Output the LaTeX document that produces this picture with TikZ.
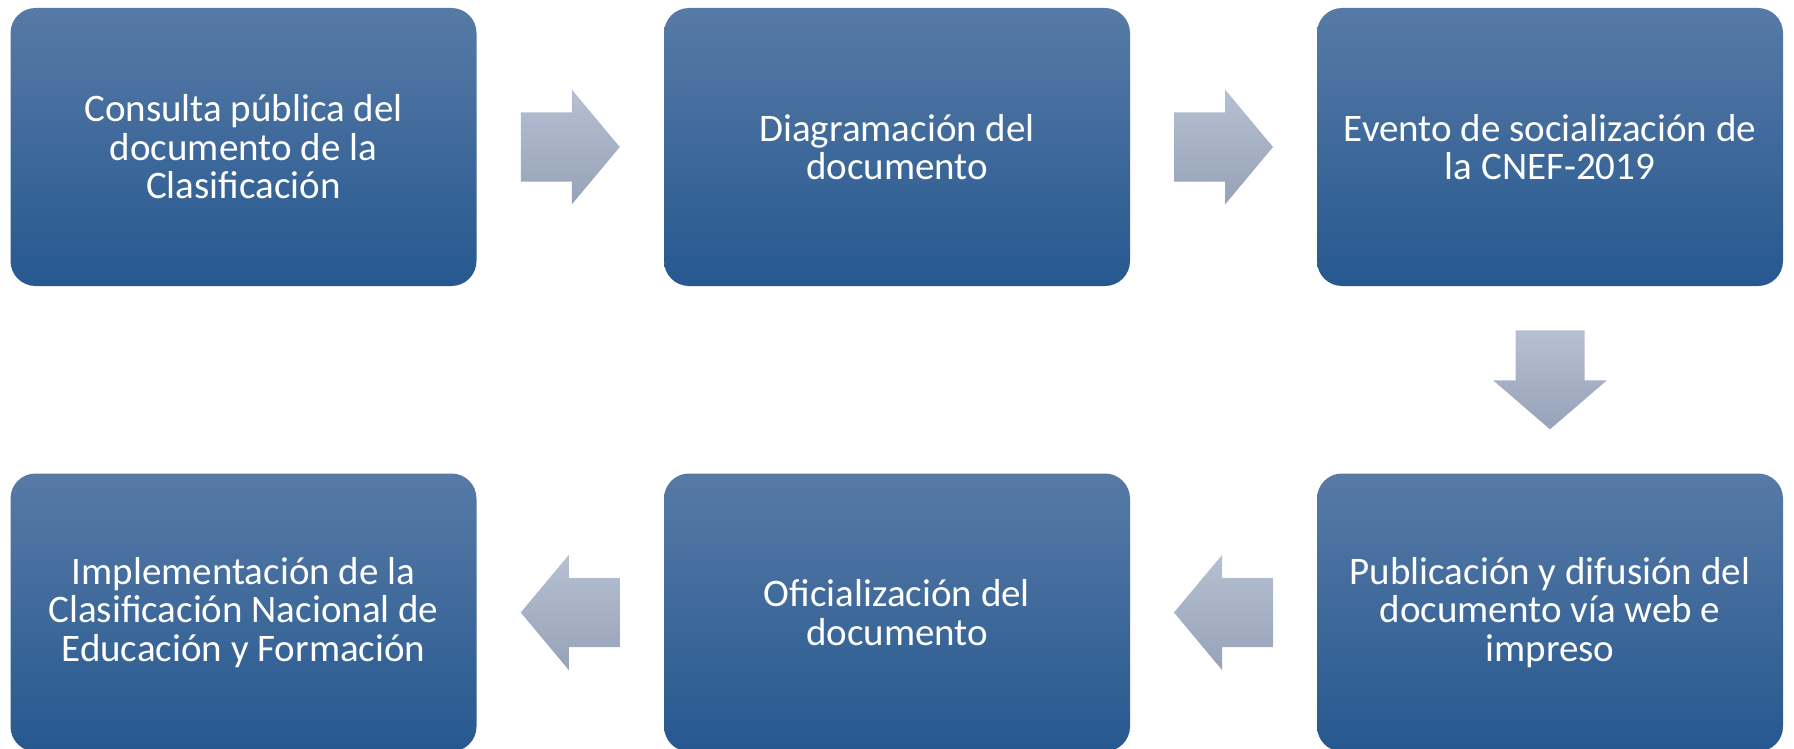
\documentclass[tikz,border=0pt]{standalone}
\usepackage{fontspec}
\setmainfont{Carlito}
\usetikzlibrary{calc}

\definecolor{boxtop}{RGB}{87,122,166}
\definecolor{boxmid}{RGB}{46,101,158}
\definecolor{boxbot}{RGB}{38,88,143}
\definecolor{arrtop}{RGB}{182,192,210}
\definecolor{arrbot}{RGB}{150,162,184}

\tikzset{
	etapa/.style={rounded corners=25pt, top color=boxtop, middle color=boxmid, bottom color=boxbot,
		minimum width=466pt, minimum height=278pt, inner sep=0pt,
		text=white, align=center, font=\fontsize{39}{38.5}\selectfont},
	flecha/.style={top color=arrtop, bottom color=arrbot},
	rflecha/.pic={\shade[flecha] (-49.5,-34.5) -- (1.5,-34.5) -- (1.5,-57.5) -- (49.5,0) -- (1.5,57.5) -- (1.5,34.5) -- (-49.5,34.5) -- cycle;},
	lflecha/.pic={\shade[flecha] (49.5,-34.5) -- (-1.5,-34.5) -- (-1.5,-57.5) -- (-49.5,0) -- (-1.5,57.5) -- (-1.5,34.5) -- (49.5,34.5) -- cycle;},
	dflecha/.pic={\shade[flecha] (-34.5,-49.5) -- (34.5,-49.5) -- (34.5,0.5) -- (57,0.5) -- (0,49.5) -- (-57,0.5) -- (-34.5,0.5) -- cycle;},
}

\begin{document}
\begin{tikzpicture}[x=1pt, y=-1pt]
			\useasboundingbox (0,0) rectangle (1794,749);
			
			%%%%% first row
			\node[etapa] (consulta) at (243.5,147) {Consulta pública del\\documento de la\\Clasificación};
			\node[etapa] (diagramacion) at (897,147) {Diagramación del\\documento};
			\node[etapa] (evento) at (1550,147) {Evento de socialización de\\la CNEF-2019};
			
			%%%%% second row
			\node[etapa] (publicacion) at (1550,612.5) {Publicación y difusión del\\documento vía web e\\impreso};
			\node[etapa] (oficializacion) at (897,612.5) {Oficialización del\\documento};
			\node[etapa] (implementacion) at (243.5,612.5) {Implementación de la\\Clasificación Nacional de\\Educación y Formación};
			
			%%%%% arrows
			\pic at ($(consulta.east)!0.5!(diagramacion.west)$) {rflecha};
			\pic at ($(diagramacion.east)!0.5!(evento.west)$) {rflecha};
			\pic at ($(evento.south)!0.5!(publicacion.north)$) {dflecha};
			\pic at ($(publicacion.west)!0.5!(oficializacion.east)$) {lflecha};
			\pic at ($(oficializacion.west)!0.5!(implementacion.east)$) {lflecha};
\end{tikzpicture}
\end{document}
